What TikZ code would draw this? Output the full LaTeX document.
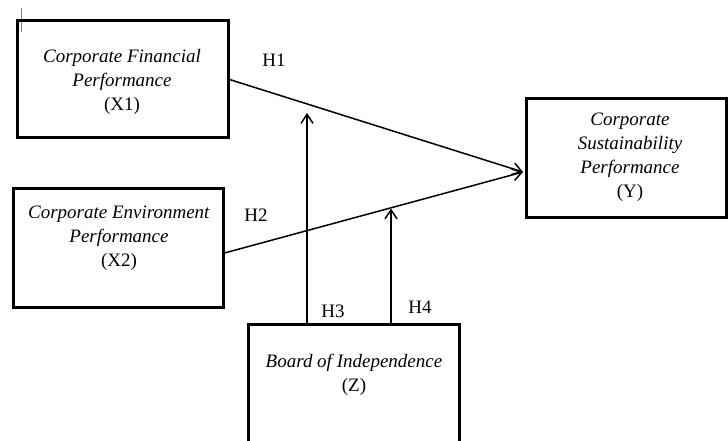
\documentclass[tikz,border=0pt]{standalone}
\usepackage{fontspec}
\setmainfont{Liberation Serif}
\usetikzlibrary{arrows.meta}
\begin{document}
\begin{tikzpicture}[x=1pt,y=-1pt,
  box/.style={draw=black, line width=3pt, rectangle, inner sep=0pt},
  txt/.style={align=center, font=\fontsize{19}{24}\selectfont, inner sep=0pt},
  hyp/.style={font=\fontsize{19}{24}\selectfont, inner sep=0pt},
  conn/.style={draw=black, line width=1.5pt},
  arr/.style={conn, -{Straight Barb[length=9pt,width=12pt,line width=1.5pt]}}
]
\useasboundingbox (0,0) rectangle (728,441);
% cursor mark
\draw[gray, line width=0.8pt] (21,8) -- (21,32);
% boxes
\node[box, minimum width=211pt, minimum height=117pt] (X1) at (122.5,79.5) {};
\node[box, minimum width=210pt, minimum height=119pt] (X2) at (118,247.5) {};
\node[box, minimum width=200pt, minimum height=118pt] (Y) at (626,158) {};
\node[rectangle, inner sep=0pt, minimum width=210pt, minimum height=126pt] (Z) at (354,388) {};
\draw[line width=3pt] (Z.south west) -- (Z.north west) -- (Z.north east) -- (Z.south east);
% texts
\node[txt] (tX1) at (122,82) {\textit{Corporate Financial}\\\textit{Performance}\\(X1)};
\node[txt] (tX2) at (119,238) {\textit{Corporate Environment}\\\textit{Performance}\\(X2)};
\node[txt] (tY) at (630,157.5) {\textit{Corporate}\\\textit{Sustainability}\\\textit{Performance}\\(Y)};
\node[txt] (tZ) at (354,374.5) {\textit{Board of Independence}\\(Z)};
% hypothesis labels
\node[hyp] (H1) at (274,60) {H1};
\node[hyp] (H2) at (256,215) {H2};
\node[hyp] (H3) at (333,311) {H3};
\node[hyp] (H4) at (420,307) {H4};
% connectors
\coordinate (tip) at (523,172);
\coordinate (a3) at (307,113);
\coordinate (a4) at (391,208.5);
\draw[arr] (X1.east) -- (tip);
\draw[arr] ([yshift=-5.5pt]X2.east) -- (tip);
\draw[arr] (a3 |- Z.north) -- (a3);
\draw[arr] (a4 |- Z.north) -- (a4);
\end{tikzpicture}
\end{document}
